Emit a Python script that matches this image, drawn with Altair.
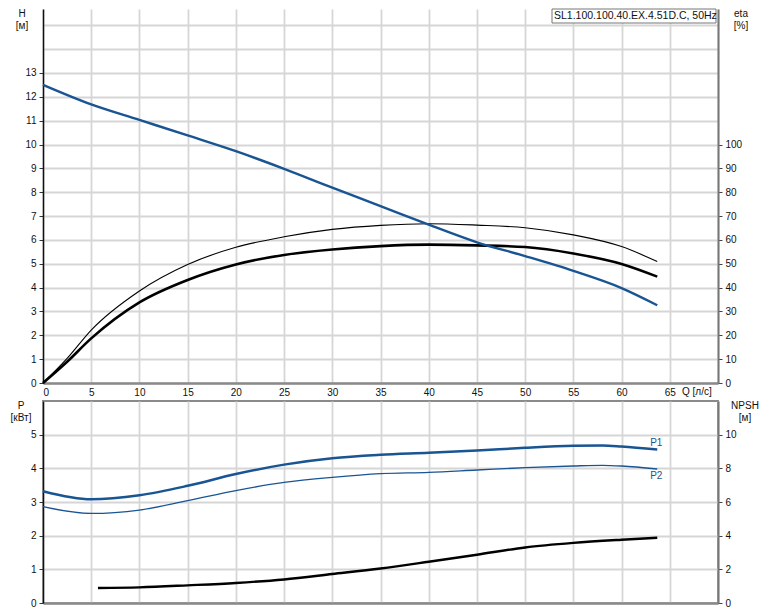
import altair as alt
import pandas as pd

# ---------------- data ----------------
Q_H = [0, 5, 10, 15, 20, 25, 30, 35, 40, 45, 50, 55, 60, 63.7]
H_VALUES = [12.5, 11.68, 11.03, 10.38, 9.72, 8.98, 8.19, 7.42, 6.64, 5.9, 5.32, 4.7, 3.98, 3.26]

Q_ETA = [0, 2.5, 5, 10, 15, 20, 25, 30, 35, 40, 45, 50, 55, 60, 63.7]
ETA_THIN = [0, 10.3, 22.2, 38.6, 49.7, 56.9, 61.3, 64.4, 66.1, 66.8, 66.2, 65.1, 62.1, 57.2, 50.9]
ETA_THICK = [0, 8.9, 18.7, 33.8, 43.2, 49.7, 53.7, 56.0, 57.4, 58.0, 57.7, 57.0, 54.3, 49.9, 44.6]

Q_P = [0, 5, 10, 15, 20, 25, 30, 35, 40, 45, 50, 55, 58, 60, 63.7]
P1_VALUES = [3.32, 3.08, 3.2, 3.48, 3.83, 4.11, 4.30, 4.40, 4.46, 4.53, 4.61, 4.67, 4.68, 4.65, 4.56]
P2_VALUES = [2.86, 2.66, 2.76, 3.04, 3.34, 3.58, 3.73, 3.84, 3.88, 3.95, 4.02, 4.07, 4.09, 4.07, 3.98]

Q_NPSH = [5.7, 10, 15, 20, 25, 30, 35, 40, 45, 50, 55, 60, 63.7]
NPSH_VALUES = [0.89, 0.93, 1.05, 1.19, 1.40, 1.72, 2.05, 2.45, 2.87, 3.30, 3.57, 3.76, 3.88]

X_TICKS = list(range(0, 71, 5))
H_TICKS = list(range(0, 16))
ETA_TICKS = list(range(0, 101, 10))
P_TICKS = list(range(0, 6))
NPSH_TICKS = list(range(0, 11, 2))

TITLE_TEXT = "SL1.100.100.40.EX.4.51D.C, 50Hz"

# ---------------- styling ----------------
FONT = "Liberation Sans"
BLUE = "#195493"
GRID = "#d6d6d6"
W = 675
H_TOP = 374
H_BOT = 202
X_MAX = 70
H_MAX = H_TOP / 23.85
ETA_MAX = H_MAX * 10
LEFT_EXT = 34


def x_enc(show_labels):
    return alt.X(
        "Q:Q",
        scale=alt.Scale(domain=[0, X_MAX], nice=False, zero=False),
        axis=alt.Axis(
            values=X_TICKS, labels=show_labels,
            labelExpr="datum.value >= 70 ? '' : datum.label",
            ticks=False, grid=True, gridColor=GRID, gridWidth=1.8,
            domainColor="#8a8a8a", domainWidth=2.5, labelPadding=4, title=None,
        ),
    )


def text_layer(text, x, y, align="center", baseline="top", size=10, color="#111"):
    return alt.Chart(pd.DataFrame({"t": [text]})).mark_text(
        align=align, baseline=baseline, fontSize=size, font=FONT, color=color
    ).encode(x=alt.value(x), y=alt.value(y), text="t:N")


# ---------------- top panel ----------------
df_h = pd.DataFrame({"Q": Q_H, "H": H_VALUES})
df_eta_thin = pd.DataFrame({"Q": Q_ETA, "eta": ETA_THIN})
df_eta_thick = pd.DataFrame({"Q": Q_ETA, "eta": ETA_THICK})


def eta_y():
    return alt.Y("eta:Q", scale=alt.Scale(domain=[0, ETA_MAX], nice=False),
                 axis=alt.Axis(orient="right", values=ETA_TICKS, grid=False, tickSize=4,
                               tickColor="#444", domainColor="#777", domainWidth=2,
                               labelPadding=3, title=None))


eta_lines = alt.layer(
    alt.Chart(df_eta_thin).mark_line(color="black", strokeWidth=1.1, interpolate="monotone").encode(
        x=x_enc(True), y=eta_y()),
    alt.Chart(df_eta_thick).mark_line(color="black", strokeWidth=2.6, interpolate="monotone").encode(
        x=x_enc(True), y=eta_y()),
)

h_line = alt.Chart(df_h).mark_line(color=BLUE, strokeWidth=2.4, interpolate="monotone").encode(
    x=x_enc(True),
    y=alt.Y("H:Q", scale=alt.Scale(domain=[0, H_MAX], nice=False),
            axis=alt.Axis(orient="left", values=H_TICKS,
                          labelExpr="datum.value > 13 ? '' : datum.label",
                          tickOpacity={"condition": {"test": "datum.value > 13", "value": 0}, "value": 1},
                          tickSize=4, tickColor="#333", domainColor="#111", domainWidth=1.5,
                          grid=True, gridColor=GRID, gridWidth=1.8, labelPadding=3,
                          minExtent=LEFT_EXT, maxExtent=LEFT_EXT, title=None)),
)

title_box = alt.Chart(pd.DataFrame({"a": [0]})).mark_rect(
    fill="white", stroke="#777", strokeWidth=1
).encode(x=alt.value(509), x2=alt.value(673), y=alt.value(0), y2=alt.value(14))

top = alt.layer(
    eta_lines,
    h_line,
    title_box,
    text_layer(TITLE_TEXT, 511, 7, align="left", baseline="middle", size=10.5),
    text_layer("H", -21, 0),
    text_layer("[м]", -21, 12),
    text_layer("eta", 698, 0),
    text_layer("[%]", 698, 12),
    text_layer("Q [л/с]", 639, H_TOP + 4, align="left"),
).resolve_scale(y="independent").properties(width=W, height=H_TOP)

# ---------------- bottom panel ----------------
df_p1 = pd.DataFrame({"Q": Q_P, "P": P1_VALUES})
df_p2 = pd.DataFrame({"Q": Q_P, "P": P2_VALUES})
df_npsh = pd.DataFrame({"Q": Q_NPSH, "NPSH": NPSH_VALUES})

npsh_line = alt.Chart(df_npsh).mark_line(color="black", strokeWidth=2.4, interpolate="monotone").encode(
    x=x_enc(False),
    y=alt.Y("NPSH:Q", scale=alt.Scale(domain=[0, 12], nice=False),
            axis=alt.Axis(orient="right", values=NPSH_TICKS, grid=False, tickSize=4,
                          tickColor="#444", domainColor="#777", domainWidth=2,
                          labelPadding=3, title=None)),
)


def p_y():
    return alt.Y("P:Q", scale=alt.Scale(domain=[0, 6], nice=False),
                 axis=alt.Axis(orient="left", values=P_TICKS, tickSize=4, tickColor="#333",
                               domainColor="#111", domainWidth=1.5, grid=True, gridColor=GRID,
                               gridWidth=1.8, labelPadding=3, minExtent=LEFT_EXT,
                               maxExtent=LEFT_EXT, title=None))


p_lines = alt.layer(
    alt.Chart(df_p2).mark_line(color=BLUE, strokeWidth=1.3, interpolate="monotone").encode(
        x=x_enc(False), y=p_y()),
    alt.Chart(df_p1).mark_line(color=BLUE, strokeWidth=2.5, interpolate="monotone").encode(
        x=x_enc(False), y=p_y()),
)


def curve_label(text, q, p, dy):
    return alt.Chart(pd.DataFrame({"Q": [q], "P": [p], "t": [text]})).mark_text(
        align="center", baseline="middle", fontSize=10, font=FONT, color=BLUE, dy=dy, dx=-1
    ).encode(
        x=x_enc(False),
        y=alt.Y("P:Q", scale=alt.Scale(domain=[0, 6], nice=False), axis=None),
        text="t:N",
    )


bottom = alt.layer(
    npsh_line,
    p_lines,
    curve_label("P1", Q_P[-1], P1_VALUES[-1], -6),
    curve_label("P2", Q_P[-1], P2_VALUES[-1], 7),
    text_layer("P", -22, 0),
    text_layer("[кВт]", -22, 12),
    text_layer("NPSH", 702, 0),
    text_layer("[м]", 702, 12),
).resolve_scale(y="independent").properties(
    width=W, height=H_BOT, view=alt.ViewBackground(stroke="#8a8a8a", strokeWidth=2)
)

chart = alt.vconcat(top, bottom, spacing=3).properties(padding=0).configure_view(
    strokeWidth=0
).configure_axis(
    labelFont=FONT, labelFontSize=10, labelColor="#111"
)

chart.save("out.html", embed_options={"renderer": "svg", "actions": False})
